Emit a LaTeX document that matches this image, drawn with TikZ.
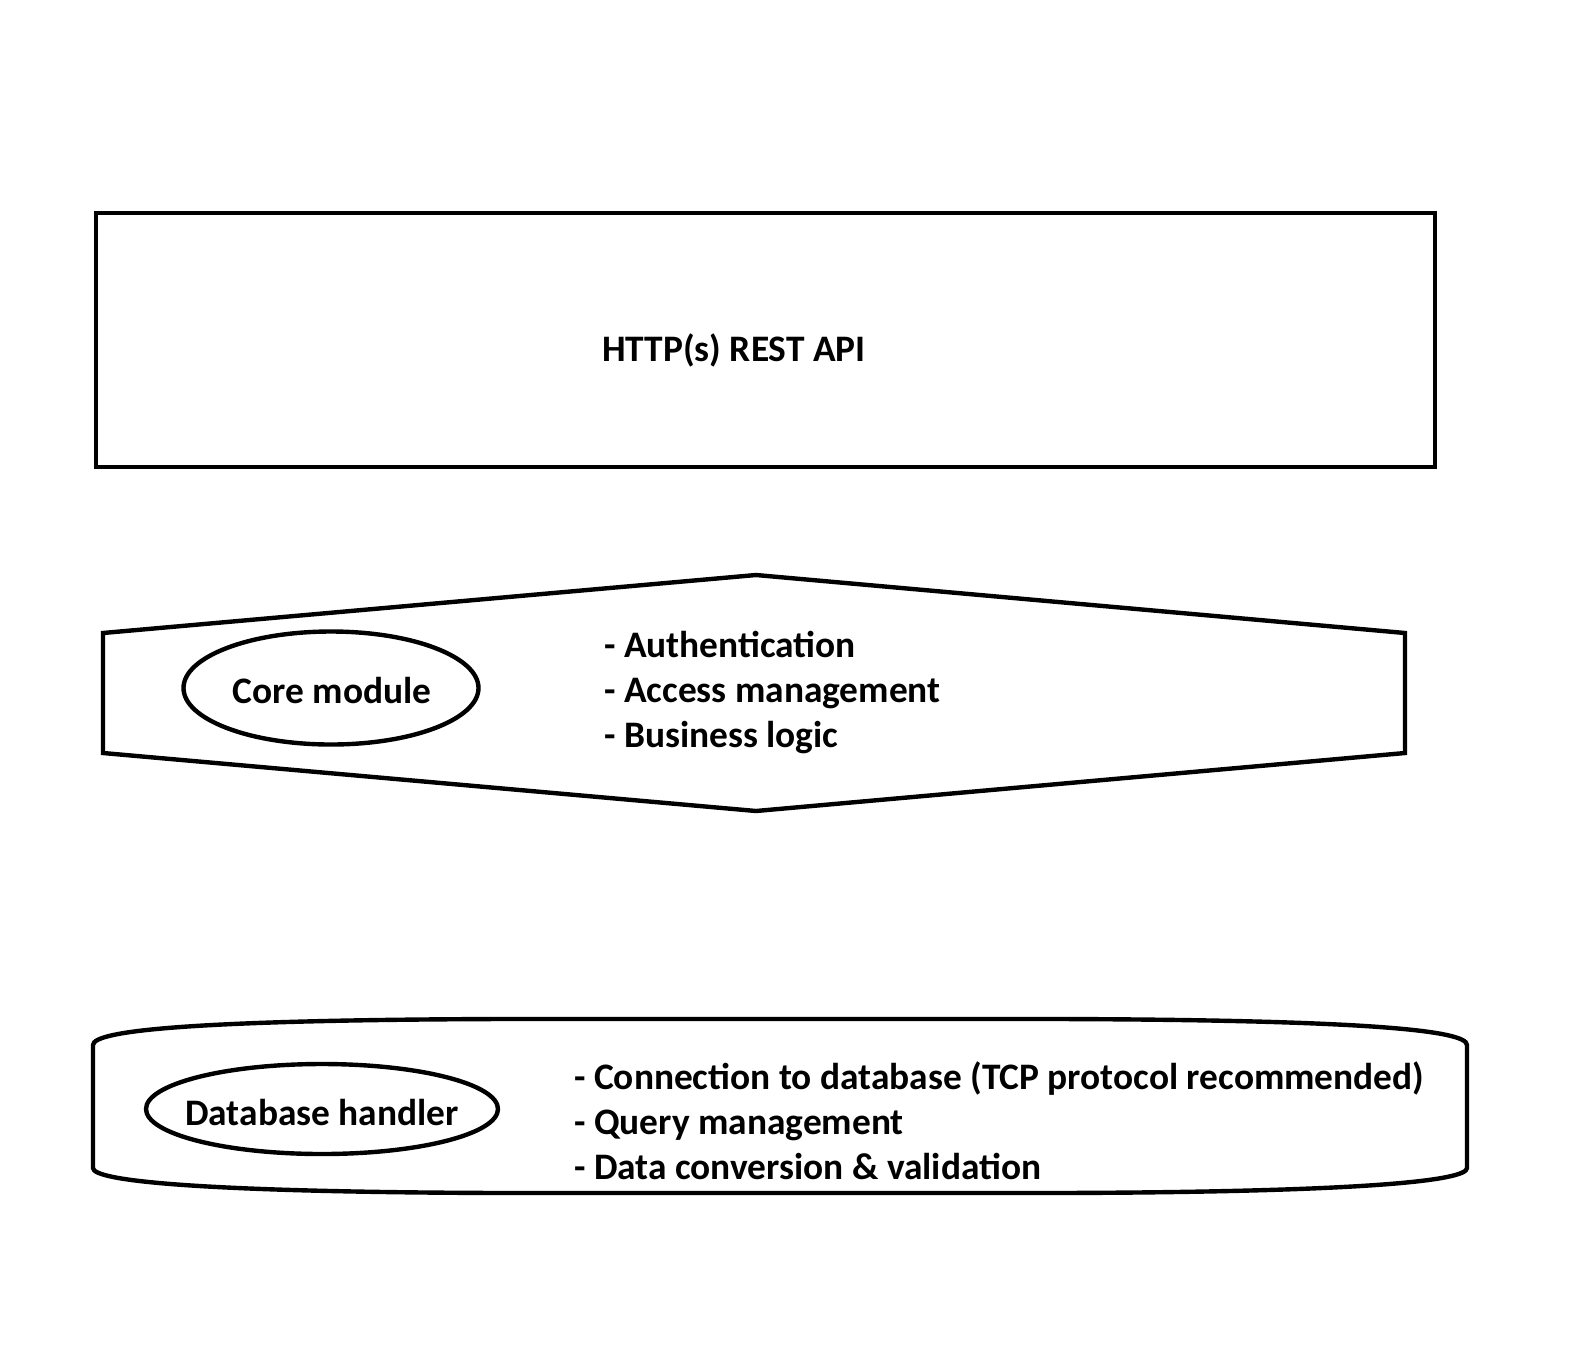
\documentclass[tikz,border=0pt]{standalone}
\usepackage{fontspec}
\setmainfont{Carlito}
\usetikzlibrary{shapes.geometric}
\begin{document}
\begin{tikzpicture}[x=1pt,y=-1pt,
  outl/.style={draw=black,line width=4.4pt,line join=miter},
  lbl/.style={font=\bfseries\fontsize{37.4}{45}\selectfont,inner sep=0pt},
  listtxt/.style={lbl,align=left,anchor=west},
  oval/.style={outl,ellipse,inner sep=0pt}]
\useasboundingbox (0,0) rectangle (1572,1345);
% HTTP box
\draw[outl,line width=4.8pt] (96,213) rectangle (1435,467);
\node[lbl] (api) at (734,350) {HTTP(s) REST API};
% hexagon
\draw[outl] (103,633) -- (756,575) -- (1405,633) -- (1405,753) -- (756,811) -- (103,753) -- cycle;
\node[oval,minimum width=295pt,minimum height=113pt] (core) at (331,688) {};
\node[lbl] (coret) at (332,691) {Core module};
\node[listtxt] (corelist) at (604,693) {- Authentication\\- Access management\\- Business logic};
% bottom shape
\draw[outl] (93,1045) .. controls (93,1030) and (200,1020) .. (500,1019) -- (1060,1019)
  .. controls (1360,1020) and (1467,1030) .. (1467,1045) -- (1467,1168)
  .. controls (1467,1181) and (1360,1192) .. (1060,1193) -- (500,1193)
  .. controls (200,1192) and (93,1181) .. (93,1168) -- cycle;
\node[oval,minimum width=352pt,minimum height=90pt] (db) at (322,1109) {};
\node[lbl] (dbt) at (322,1112) {Database handler};
\node[listtxt] (dblist) at (574,1121) {- Connection to database (TCP protocol recommended)\\- Query management\\- Data conversion \& validation};
\end{tikzpicture}
\end{document}
